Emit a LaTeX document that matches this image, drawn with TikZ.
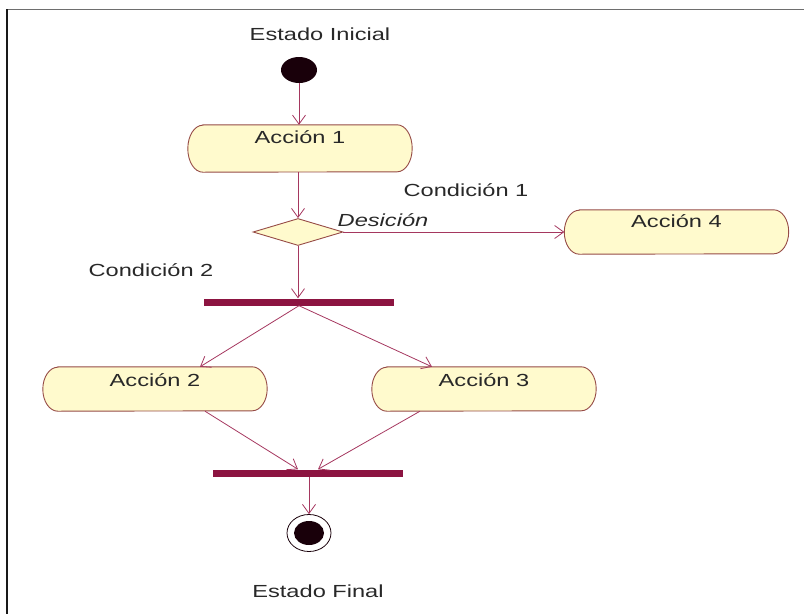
\documentclass[tikz,border=0pt]{standalone}
\usepackage{fontspec}
\setmainfont{Liberation Sans}[FakeStretch=1.35]
\usetikzlibrary{arrows.meta,backgrounds,shapes.geometric}

\definecolor{edgec}{RGB}{165,55,95}
\definecolor{barc}{RGB}{140,20,65}
\definecolor{boxline}{RGB}{150,75,70}
\definecolor{boxfill}{RGB}{255,250,205}
\definecolor{txt}{RGB}{40,40,40}
\definecolor{blob}{RGB}{25,0,10}

\newcommand\lblfont{\fontsize{17.5}{21}\selectfont}

% outline of an action state: flat top and bottom, elliptic ends
\newcommand\stadium[3]{%
  \draw[draw=boxline, fill=boxfill, line width=0.9pt]
    ([xshift=#2]#1.north west) -- ([xshift=-#2]#1.north east)
    arc[start angle=90, end angle=-90, x radius=#2, y radius=#3]
    -- ([xshift=#2]#1.south west)
    arc[start angle=270, end angle=90, x radius=#2, y radius=#3]
    -- cycle;}

\begin{document}
\begin{tikzpicture}[x=1pt,y=-1pt,
  every node/.style={font=\lblfont, text=txt},
  act/.style={rectangle, inner sep=0pt, minimum width=224pt,
    minimum height=44pt, text height=12pt, text depth=20pt},
  flow/.style={draw=edgec, line width=0.8pt,
    -{Straight Barb[length=9pt,width=13pt,line width=0.8pt]}},
  syncbar/.style={rectangle, fill=barc, inner sep=0pt,
    minimum width=190pt, minimum height=7pt},
  lbl/.style={anchor=base, inner sep=0pt}
]
\useasboundingbox (0,0) rectangle (804,614);

% frame edges
\draw[draw={rgb,255:red,110;green,110;blue,110}, line width=1.6pt] (7,9.5) -- (804,9.5);
\draw[draw=black!90, line width=1.8pt] (7,9) -- (7,614);

% states
\node[ellipse, fill=blob, inner sep=0pt, minimum width=36pt, minimum height=26pt] (ini) at (299,70) {};
\node[act, minimum height=47pt, text depth=23pt] (a1) at (300,148.5) {Acción 1};
\node[diamond, draw=boxline, fill=boxfill, line width=0.9pt, inner sep=0pt,
      minimum width=90pt, minimum height=27pt] (dec) at (298,232) {};
\node[act, text depth=22pt] (a4) at (676.5,232) {Acción 4};
\node[syncbar] (fork) at (299,302) {};
\node[act, text depth=18pt] (a2) at (155,389) {Acción 2};
\node[act, text depth=18pt] (a3) at (484,389) {Acción 3};
\node[syncbar] (join) at (308,473) {};
\node[ellipse, draw=blob, line width=0.8pt, fill=white, inner sep=0pt,
      minimum width=44pt, minimum height=37pt] (fin) at (309,533) {};
\node[ellipse, fill=blob, inner sep=0pt, minimum width=30pt, minimum height=24pt] (finc) at (fin.center) {};

\begin{scope}[on background layer]
  \stadium{a1}{15pt}{23.5pt}
  \stadium{a4}{15pt}{22pt}
  \stadium{a2}{15pt}{22pt}
  \stadium{a3}{15pt}{22pt}
\end{scope}

% labels
\node[lbl] (tIni) at (320,40) {Estado Inicial};
\node[lbl] (tC1) at (466,196) {Condición 1};
\node[lbl, font=\lblfont\itshape] (tDes) at (383,226) {Desición};
\node[lbl] (tC2) at (151,276) {Condición 2};
\node[lbl] (tFin) at (318,597) {Estado Final};

% transitions
\draw[flow] (ini.south) -- (ini.south |- a1.north);
\draw[flow] (a1.south -| dec.north) -- (dec.north);
\draw[flow] (dec.east) -- (a4.west);
\draw[flow] (dec.south) -- (dec.south |- fork.north);
\draw[flow] (fork.south) -- ([xshift=45pt]a2.north);
\draw[flow] (fork.south) -- ([xshift=-52pt]a3.north);
\draw[flow] ([xshift=50pt]a2.south) -- ([xshift=-10pt]join.north);
\draw[flow] ([xshift=-64pt]a3.south) -- ([xshift=10pt]join.north);
\draw[flow] (join.south -| fin.north) -- (fin.north);
\end{tikzpicture}
\end{document}
